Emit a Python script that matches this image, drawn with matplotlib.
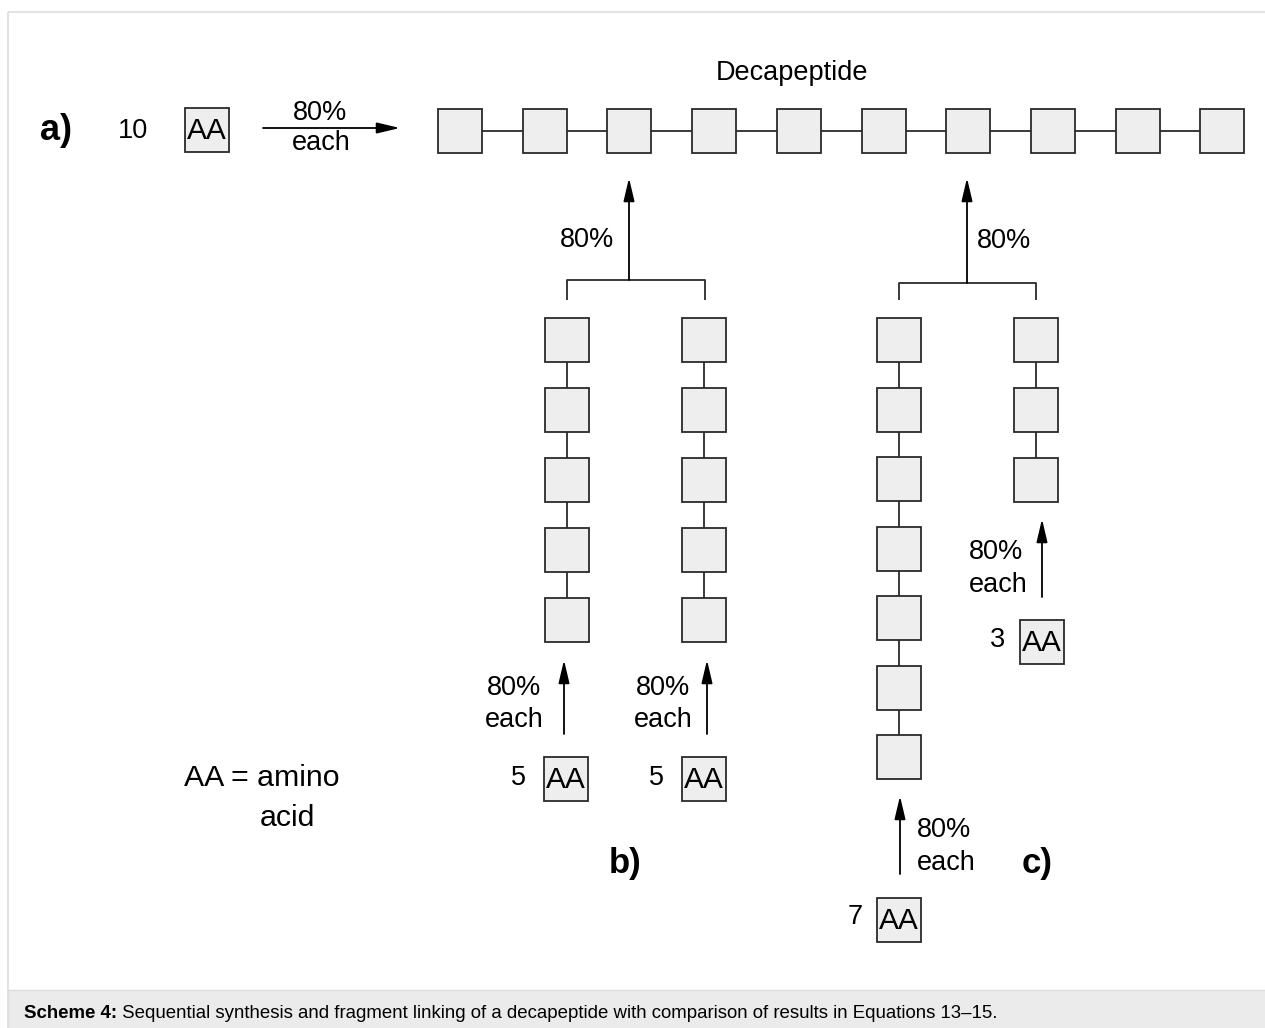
import matplotlib.pyplot as plt
from matplotlib.patches import Rectangle

plt.rcParams['font.family'] = ['Liberation Sans', 'DejaVu Sans']

# what the scheme shows
chain_sizes = [10, 5, 5, 7, 3]
start_counts = ['10', '5', '5', '7', '3']
yield_text = '80%'
each_text = 'each'
part_labels = ['a)', 'b)', 'c)']
title = 'Decapeptide'
note_lines = ['AA = amino', 'acid']
caption_bold = 'Scheme 4:'
caption_rest = ' Sequential synthesis and fragment linking of a decapeptide with comparison of results in Equations 13\u201315.'

W, H = 1265, 1028
fig = plt.figure(figsize=(W / 100, H / 100), dpi=100)
ax = fig.add_axes([0, 0, 1, 1])
ax.set_xlim(0, W)
ax.set_ylim(H, 0)
ax.axis('off')

BOX = 44
FILL = '#eeeeee'
EDGE = '#2a2a2a'
LW = 1.3
FS = 19.5


def box(cx, cy, label=None):
    ax.add_patch(Rectangle((cx - BOX / 2, cy - BOX / 2), BOX, BOX,
                           facecolor=FILL, edgecolor=EDGE, lw=LW, zorder=3))
    if label:
        ax.text(cx, cy + 1, label, ha='center', va='center', fontsize=21.5, zorder=4)


def line(xs, ys):
    ax.plot(xs, ys, color=EDGE, lw=LW, zorder=2, solid_capstyle='butt')


def arrow(x0, y0, x1, y1):
    ax.annotate('', xy=(x1, y1), xytext=(x0, y0),
                arrowprops=dict(arrowstyle='-|>,head_length=1.4,head_width=0.33',
                                color='black', lw=LW, shrinkA=0, shrinkB=0))


def hchain(x0, y, n, step):
    xs = [x0 + i * step for i in range(n)]
    line([xs[0], xs[-1]], [y, y])
    for x in xs:
        box(x, y)


def vchain(x, y0, n, step):
    ys = [y0 + i * step for i in range(n)]
    line([x, x], [ys[0], ys[-1]])
    for y in ys:
        box(x, y)


def label(x, y, s, **kw):
    ax.text(x, y, s, fontsize=kw.pop('fontsize', FS), ha=kw.pop('ha', 'center'),
            va='center', **kw)


# frame and caption bar
ax.add_patch(Rectangle((8, 12), W, 1100, facecolor='none', edgecolor='#dddddd', lw=1.2))
ax.add_patch(Rectangle((8, 990), W, 60, facecolor='#ebebeb', edgecolor='#dddddd', lw=1.0))
cap = ax.text(24, 1013, caption_bold, fontsize=13.4, fontweight='bold', va='center')
ax.annotate(caption_rest, xy=(1, 0.5), xycoords=cap, va='center', fontsize=13.4)

# a) sequential
label(40, 131, part_labels[0], fontsize=26, fontweight='bold', ha='left')
label(133, 131, start_counts[0])
box(207, 130, 'AA')
arrow(263, 128, 400, 128)
label(320, 113, yield_text)
label(321, 143, each_text)
label(792, 73, title, fontsize=19.5)
hchain(460, 131, chain_sizes[0], 84.7)

# b) two pentapeptides
arrow(629, 280, 629, 178)
label(587, 240, yield_text)
line([567, 567, 705, 705], [300, 280, 280, 300])
vchain(567, 340, chain_sizes[1], 70)
vchain(704, 340, chain_sizes[2], 70)
for x, tx in [(564, 514), (707, 663)]:
    arrow(x, 734, x, 660)
    label(tx, 688, yield_text)
    label(tx, 720, each_text)
for x, cnt in [(566, start_counts[1]), (704, start_counts[2])]:
    box(x, 779, 'AA')
    label(x - 48, 778, cnt)
label(625, 863, part_labels[1], fontsize=25, fontweight='bold')

# c) heptapeptide + tripeptide
arrow(967, 283, 967, 178)
label(1004, 241, yield_text)
line([899, 899, 1036, 1036], [300, 283, 283, 300])
vchain(899, 340, chain_sizes[3], 69.5)
vchain(1036, 340, chain_sizes[4], 70)
arrow(900, 874, 900, 796)
label(944, 830, yield_text)
label(946, 863, each_text)
box(899, 920, 'AA')
label(855, 917, start_counts[3])
arrow(1042, 597, 1042, 519)
label(996, 552, yield_text)
label(998, 585, each_text)
box(1042, 642, 'AA')
label(998, 640, start_counts[4])
label(1037, 863, part_labels[2], fontsize=25, fontweight='bold')

# note
label(262, 778, note_lines[0], fontsize=21.8)
label(287, 818, note_lines[1], fontsize=21.8)

fig.savefig('out.png', dpi=100)
